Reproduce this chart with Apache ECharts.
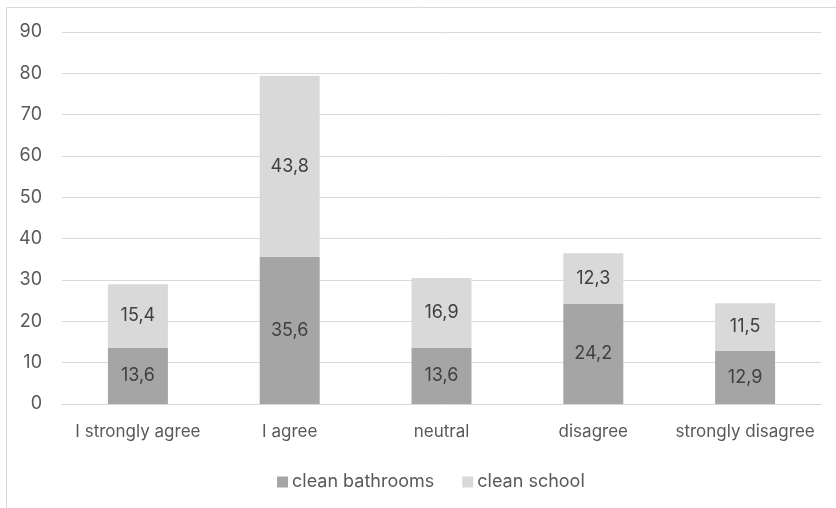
<!DOCTYPE html>
<html>
<head>
<meta charset="utf-8">
<script src="https://cdn.jsdelivr.net/npm/echarts@6/dist/echarts.min.js"></script>
<style>
html,body{margin:0;padding:0;background:#fff;}
#c{width:836px;height:508px;}
</style>
</head>
<body>
<div id="c"></div>
<script>
const categories = ['I strongly agree', 'I agree', 'neutral', 'disagree', 'strongly disagree'];
const cleanBathrooms = [13.6, 35.6, 13.6, 24.2, 12.9];
const cleanSchool = [15.4, 43.8, 16.9, 12.3, 11.5];
const seriesNames = ['clean bathrooms', 'clean school'];

const FONT = 'Inter, "Noto Sans", sans-serif';
const fmt = p => String(p.value).replace('.', ',');

const chart = echarts.init(document.getElementById('c'));
chart.setOption({
  animation: false,
  textStyle: { fontFamily: FONT },
  graphic: [{
    type: 'rect',
    shape: { x: 6.5, y: 7.5, width: 840, height: 520 },
    style: { fill: 'none', stroke: '#d9d9d9', lineWidth: 1 },
    silent: true
  }],
  grid: { left: 62, right: 15, top: 32, bottom: 104, containLabel: false },
  legend: {
    data: seriesNames,
    top: 468,
    left: 272,
    itemWidth: 11,
    itemHeight: 11,
    itemGap: 28,
    icon: 'rect',
    textStyle: { fontFamily: FONT, fontSize: 18, color: '#595959', padding: [0, 0, 0, -1] }
  },
  xAxis: {
    type: 'category',
    data: categories,
    axisLine: { show: true, lineStyle: { color: '#d9d9d9', width: 1 } },
    axisTick: { show: false },
    axisLabel: { fontFamily: FONT, fontSize: 17, color: '#595959', margin: 19, interval: 0 }
  },
  yAxis: {
    type: 'value',
    min: 0,
    max: 90,
    interval: 10,
    axisLine: { show: false },
    axisTick: { show: false },
    splitLine: { lineStyle: { color: '#d9d9d9', width: 1 } },
    axisLabel: { fontFamily: FONT, fontSize: 18, color: '#595959', margin: 20 }
  },
  series: [
    {
      name: seriesNames[0],
      type: 'bar',
      stack: 'a',
      barWidth: 60,
      data: cleanBathrooms,
      itemStyle: { color: '#a5a5a5' },
      label: { show: true, position: 'inside', formatter: fmt, fontFamily: FONT, fontSize: 18, color: '#404040' }
    },
    {
      name: seriesNames[1],
      type: 'bar',
      stack: 'a',
      barWidth: 60,
      data: cleanSchool,
      itemStyle: { color: '#d9d9d9' },
      label: { show: true, position: 'inside', formatter: fmt, fontFamily: FONT, fontSize: 18, color: '#404040' }
    }
  ]
});
</script>
</body>
</html>
